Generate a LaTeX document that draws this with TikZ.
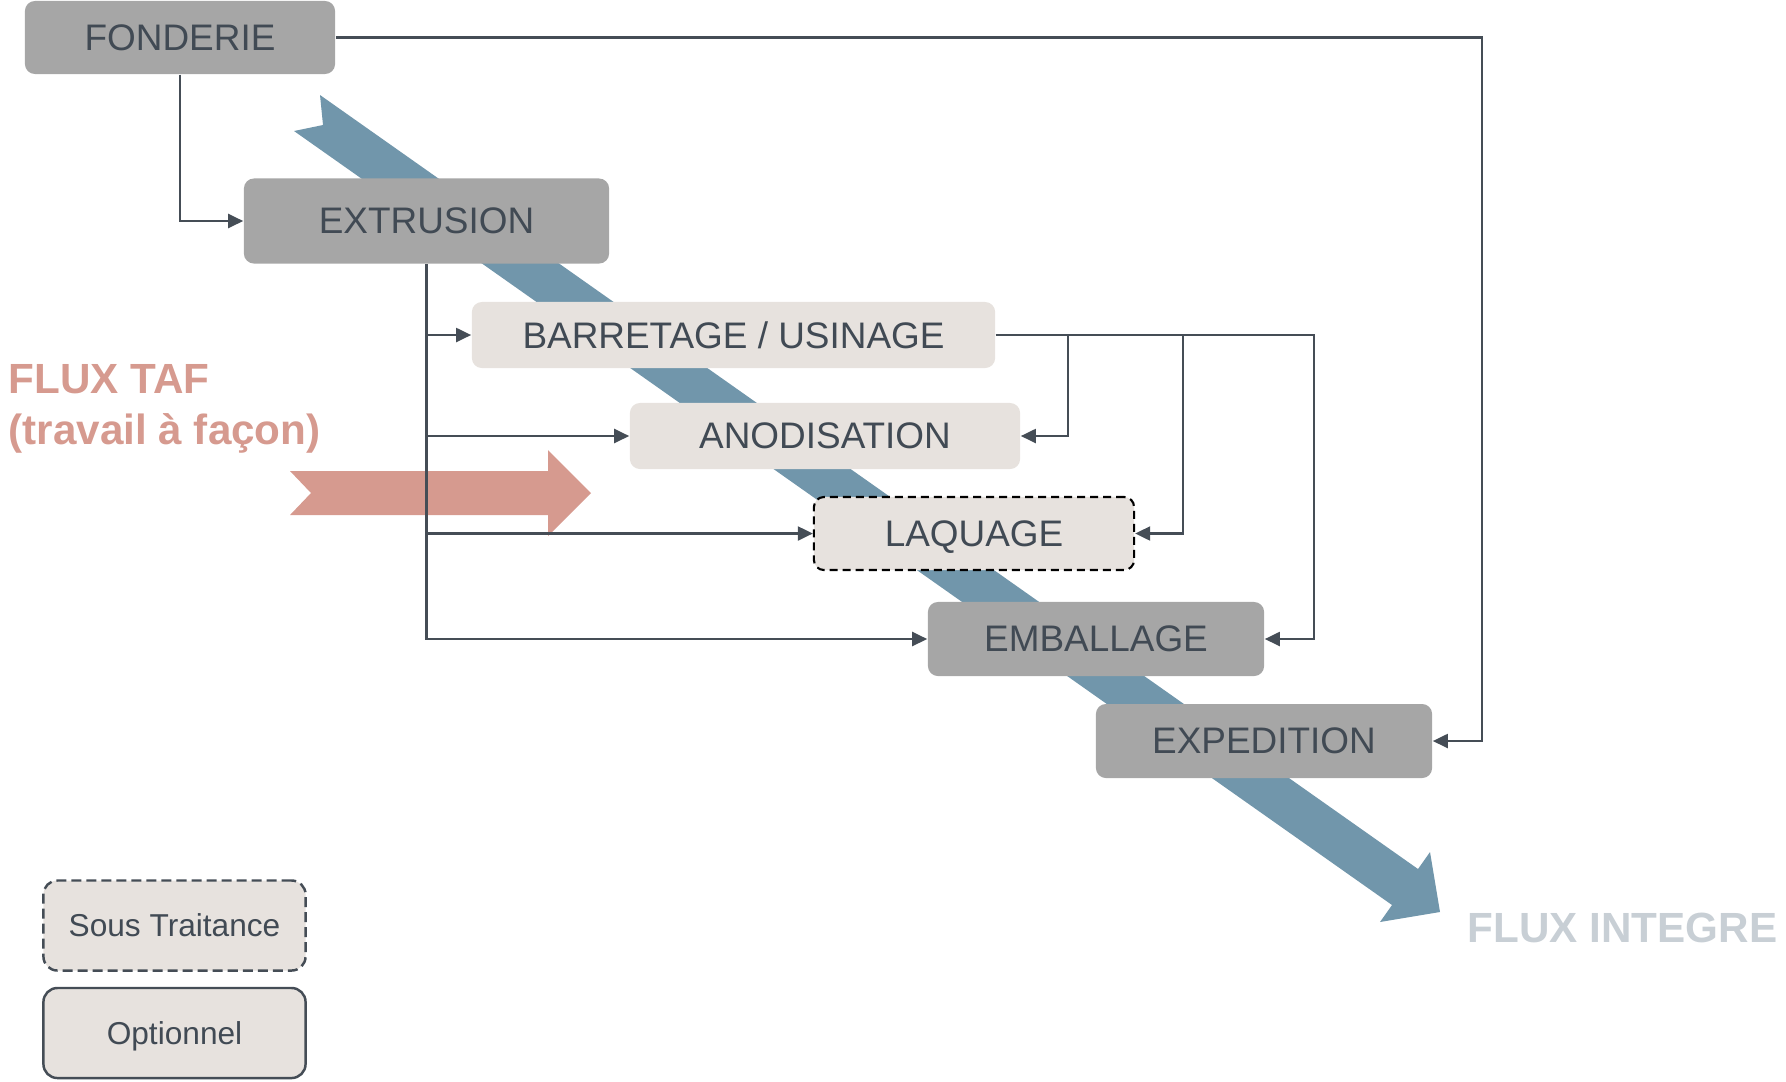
\documentclass[tikz,border=0pt]{standalone}
\usepackage{fontspec}
\setmainfont{Liberation Sans}
\usetikzlibrary{arrows.meta}

\definecolor{boxgray}{HTML}{A6A6A6}
\definecolor{boxlight}{HTML}{E7E2DE}
\definecolor{inkgray}{HTML}{414A54}
\definecolor{linegray}{HTML}{454D56}
\definecolor{fluxblue}{HTML}{7196AB}
\definecolor{fluxrose}{HTML}{D69A8F}
\definecolor{fluxpale}{HTML}{C8CFD5}

\begin{document}
\begin{tikzpicture}[x=0.01cm,y=-0.01cm,
    etape/.style={rounded corners=0.1cm, inner sep=0pt, text depth=0pt, text=inkgray, font=\fontsize{10.5}{12}\selectfont},
    lourd/.style={etape, fill=boxgray},
    leger/.style={etape, fill=boxlight},
    flux/.style={draw=linegray, line width=0.6pt, -{Triangle[length=0.15cm,width=0.14cm]}},
    legende/.style={draw=linegray, line width=0.7pt, fill=boxlight, rounded corners=0.14cm, minimum width=2.62cm, minimum height=0.9cm, inner sep=0pt, text depth=0pt, text=inkgray, font=\fontsize{9}{11}\selectfont},
    titre/.style={inner sep=0pt, font=\bfseries\fontsize{12}{14}\selectfont}]
    \useasboundingbox (0,0) rectangle (1786,1081);
    \fill[fluxblue] (320,95) -- (1418,869) -- (1430,852) -- (1440,912) -- (1380,922) -- (1392,905) -- (294,131) -- (323,125) -- cycle;
    \fill[fluxrose] (290,471) -- (548,471) -- (548,450) -- (591,493) -- (548,536) -- (548,515) -- (290,515) -- (311,493) -- cycle;

    \node[lourd, minimum width=3.10cm, minimum height=0.73cm] (fond) at (180,37.5) {FONDERIE};
    \node[lourd, minimum width=3.65cm, minimum height=0.85cm] (extr) at (426.5,221) {EXTRUSION};
    \node[leger, minimum width=5.23cm, minimum height=0.66cm] (barr) at (733.5,335) {BARRETAGE / USINAGE};
    \node[leger, minimum width=3.90cm, minimum height=0.66cm] (anod) at (825,436) {ANODISATION};
    \node[leger, draw=black, line width=0.6pt, dash pattern=on 0.08cm off 0.05cm, minimum width=3.20cm, minimum height=0.73cm] (laqu) at (974,533.5) {LAQUAGE};
    \node[lourd, minimum width=3.36cm, minimum height=0.74cm] (emba) at (1096,639) {EMBALLAGE};
    \node[lourd, minimum width=3.36cm, minimum height=0.74cm] (expe) at (1264,741) {EXPEDITION};

    \draw[flux] (fond.south) |- (extr.west);
    \draw[flux] (fond.east) -| ([xshift=0.49cm]expe.east) -- (expe.east);
    \foreach \cible in {barr,anod,laqu,emba} \draw[flux] (extr.south) |- (\cible.west);
    \draw[flux] (barr.east) -| ([xshift=0.47cm]anod.east) -- (anod.east);
    \draw[flux] (barr.east) -| ([xshift=0.48cm]laqu.east) -- (laqu.east);
    \draw[flux] (barr.east) -| ([xshift=0.49cm]emba.east) -- (emba.east);

    \node[titre, text=fluxrose, anchor=base west] (taf) at (8,393) {FLUX TAF};
    \node[titre, text=fluxrose, anchor=base west] (facon) at (8,444) {(travail à façon)};
    \node[titre, text=fluxpale, anchor=base west] (integre) at (1467,942) {FLUX INTEGRE};

    \node[legende, dash pattern=on 0.1cm off 0.05cm] (sous) at (174.5,925.5) {Sous Traitance};
    \node[legende] (opti) at (174.5,1033) {Optionnel};
\end{tikzpicture}
\end{document}
